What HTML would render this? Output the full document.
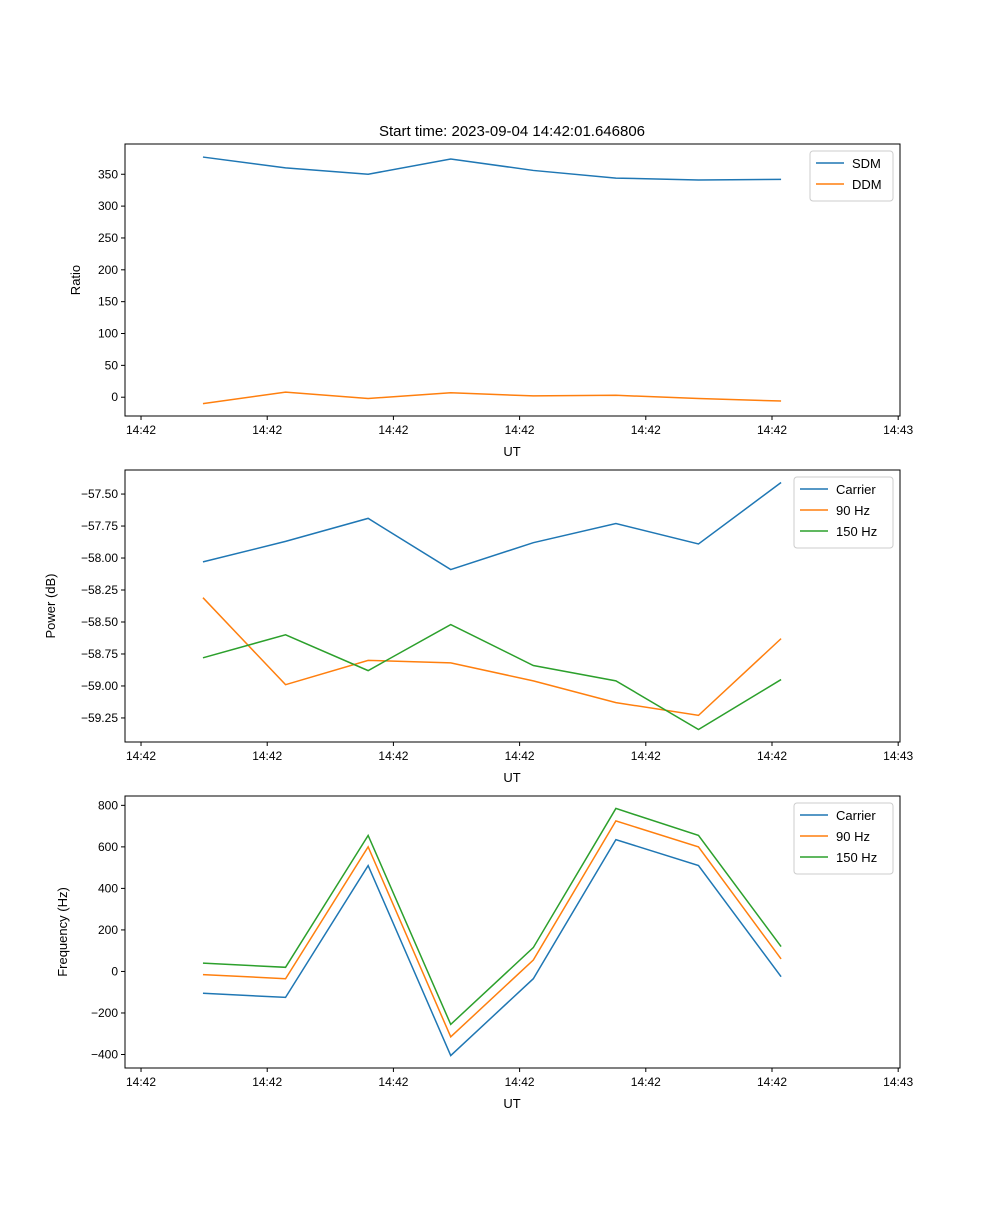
<!DOCTYPE html>
<html><head><meta charset="utf-8"><style>
body{margin:0;background:#fff}
svg{font-family:"Liberation Sans","DejaVu Sans",sans-serif}
</style></head><body>
<svg id="c" width="1000" height="1200"></svg>
<script>
const xIdx=[0,1,2,3,4,5,6,7];
const xTickLabels=["14:42","14:42","14:42","14:42","14:42","14:42","14:43"];
const sdm=[377,360,350,374,356,344,341,342];
const ddm=[-10,8,-2,7,2,3,-2,-6];
const pCarrier=[-58.03,-57.87,-57.69,-58.09,-57.88,-57.73,-57.89,-57.41];
const p90=[-58.31,-58.99,-58.80,-58.82,-58.96,-59.13,-59.23,-58.63];
const p150=[-58.78,-58.60,-58.88,-58.52,-58.84,-58.96,-59.34,-58.95];
const fCarrier=[-105,-125,510,-405,-35,635,510,-25];
const f90=[-15,-35,600,-315,55,725,600,60];
const f150=[40,20,655,-255,115,785,655,120];
const ratioTicks=[0,50,100,150,200,250,300,350];
const powerTicks=[-59.25,-59.0,-58.75,-58.5,-58.25,-58.0,-57.75,-57.5];
const freqTicks=[-400,-200,0,200,400,600,800];

const NS="http://www.w3.org/2000/svg";
const svg=document.getElementById('c');
function el(t,a,p){const e=document.createElementNS(NS,t);for(const k in a)e.setAttribute(k,a[k]);(p||svg).appendChild(e);return e;}
const L=125,R=900;
const xs=i=>L+(i+0.944)*(R-L)/(8.44+0.944);
const xTickPos=[-0.75,0.778,2.306,3.834,5.362,6.89,8.418];
function fmt(v,d){return (v<0?"\u2212":"")+Math.abs(v).toFixed(d);}
function panel(name,top,ymin,ymax,ticks,dec,ylabel,ylx,series,legW){
  const B=top+272;
  const ys=v=>B-(v-ymin)/(ymax-ymin)*272;
  const g=el('g',{});
  
  
  el('rect',{x:L,y:top,width:R-L,height:272,fill:'none',stroke:'#000','stroke-width':1},g);
  ticks.forEach(t=>{const y=ys(t);
    el('line',{x1:L-4,x2:L,y1:y,y2:y,stroke:'#000'},g);
    const tx=el('text',{x:L-7,y:y+4,'font-size':12,'text-anchor':'end'},g);tx.textContent=fmt(t,dec);
    });
  xTickPos.forEach((p,k)=>{const x=xs(p);
    el('line',{x1:x,x2:x,y1:B,y2:B+4,stroke:'#000'},g);
    const tx=el('text',{x:x,y:B+18,'font-size':12,'text-anchor':'middle'},g);tx.textContent=xTickLabels[k];
    });
  const xl=el('text',{x:512,y:B+40,'font-size':13,'text-anchor':'middle'},g);xl.textContent='UT';
  
  const yl=el('text',{x:ylx,y:top+136,'font-size':13,'text-anchor':'middle',transform:`rotate(-90 ${ylx} ${top+136})`},g);yl.textContent=ylabel;
  
  series.forEach(s=>{const pl=el('polyline',{points:s.d.map((v,i)=>xs(xIdx[i])+','+ys(v)).join(' '),fill:'none',stroke:s.c,'stroke-width':1.5},g);
    });
  const lh=series.length*21+8, lx=R-7-legW, ly=top+7;
  const lg=el('g',{},g);
  
  el('rect',{x:lx,y:ly,width:legW,height:lh,fill:'#fff',stroke:'#ccc',rx:3},lg);
  series.forEach((s,i)=>{const yy=ly+12+i*21;
    el('line',{x1:lx+6,x2:lx+34,y1:yy,y2:yy,stroke:s.c,'stroke-width':1.5},lg);
    const t=el('text',{x:lx+42,y:yy+5,'font-size':13},lg);t.textContent=s.n;
    });
}
const ti=el('text',{x:512,y:136,'font-size':15,'text-anchor':'middle'});ti.textContent='Start time: 2023-09-04 14:42:01.646806';

panel('ratio-panel',144,-29.5,397.5,ratioTicks,0,'Ratio',80,[{n:'SDM',d:sdm,c:'#1f77b4'},{n:'DDM',d:ddm,c:'#ff7f0e'}],83);
panel('power-panel',470,-59.438,-57.312,powerTicks,2,'Power (dB)',55,[{n:'Carrier',d:pCarrier,c:'#1f77b4'},{n:'90 Hz',d:p90,c:'#ff7f0e'},{n:'150 Hz',d:p150,c:'#2ca02c'}],99);
panel('frequency-panel',796,-465,845,freqTicks,0,'Frequency (Hz)',67,[{n:'Carrier',d:fCarrier,c:'#1f77b4'},{n:'90 Hz',d:f90,c:'#ff7f0e'},{n:'150 Hz',d:f150,c:'#2ca02c'}],99);
</script>
</body></html>
